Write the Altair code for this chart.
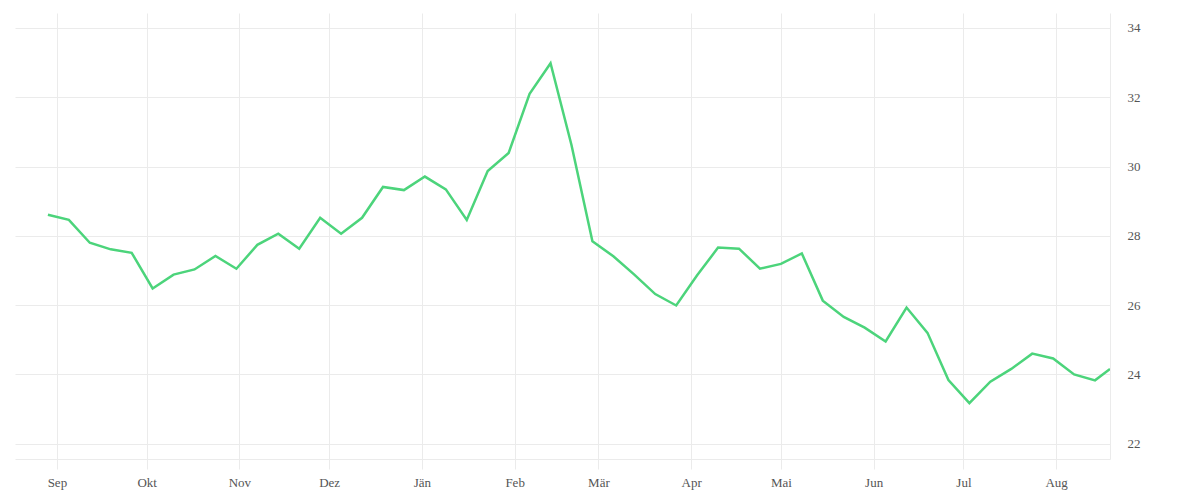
import altair as alt
import pandas as pd

dates = pd.date_range("2022-08-29", periods=51, freq="7D").strftime("%Y-%m-%d").tolist() + ["2023-08-19"]
values = [28.61, 28.46, 27.80, 27.61, 27.51, 26.48, 26.88, 27.03, 27.42, 27.05,
          27.74, 28.06, 27.63, 28.52, 28.06, 28.52, 29.41, 29.32, 29.71, 29.34,
          28.46, 29.87, 30.39, 32.10, 32.98, 30.62, 27.84, 27.41, 26.88, 26.32,
          25.99, 26.86, 27.66, 27.63, 27.05, 27.19, 27.49, 26.13, 25.66, 25.35,
          24.95, 25.93, 25.20, 23.84, 23.17, 23.79, 24.16, 24.60, 24.46, 24.00,
          23.83, 24.16]
month_names = ["Jän", "Feb", "Mär", "Apr", "Mai", "Jun", "Jul", "Aug", "Sep", "Okt", "Nov", "Dez"]
y_ticks = [22, 24, 26, 28, 30, 32, 34]
x_domain = ["2022-08-18", "2023-08-19"]
y_domain = [21.56, 34.43]

df = pd.DataFrame({"date": dates, "value": values})

label_expr = "[" + ",".join("'%s'" % m for m in month_names) + "][utcmonth(datum.value)]"

grid = "#ebebeb"
text_col = "#555555"
font = "Liberation Serif"

chart = alt.Chart(df).mark_line(color="#4cd47b", strokeWidth=2.5, clip=True).encode(
    x=alt.X("date:T", scale=alt.Scale(type="utc", domain=x_domain, nice=False),
            axis=alt.Axis(title=None, tickCount={"interval": "month", "step": 1},
                          labelExpr=label_expr, grid=True, gridColor=grid,
                          domainColor=grid, tickColor=grid, tickSize=10,
                          labelPadding=7, labelFont=font, labelFontSize=13,
                          labelColor=text_col, labelFlush=False)),
    y=alt.Y("value:Q", scale=alt.Scale(domain=y_domain, nice=False, zero=False),
            axis=alt.Axis(title=None, orient="right", values=y_ticks, grid=True,
                          gridColor=grid, domainColor=grid, ticks=False, tickSize=0,
                          labelPadding=17, labelFont=font, labelFontSize=13,
                          labelColor=text_col, labelFlush=False)),
).properties(
    width=1095, height=446,
    padding={"left": 7, "top": 5, "right": 5, "bottom": 5},
).configure_view(stroke=None)

chart.save("out.html", embed_options={"renderer": "svg", "actions": False})
